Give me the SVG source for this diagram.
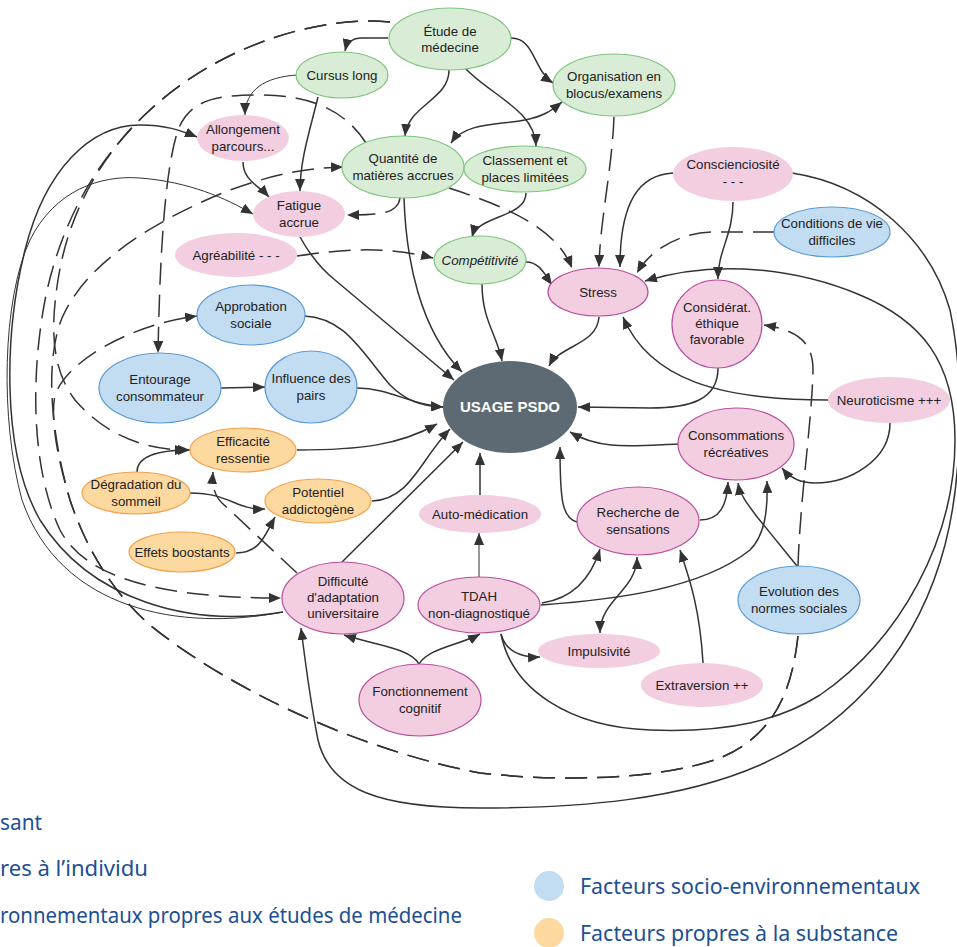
<svg xmlns="http://www.w3.org/2000/svg" width="957" height="947" viewBox="0 0 957 947">
<style>
.c{fill:none;stroke:#333;stroke-width:1.5}
.d{stroke-dasharray:22 10}
.t{stroke-width:1}
.n{font-family:"Liberation Sans",Arial,sans-serif;font-size:13.3px;fill:#222;text-anchor:middle}
.g{fill:#d9ecd5;stroke:#7fc47f;stroke-width:1.2}
.p{fill:#f3cde0}
.pb{fill:#f3cde0;stroke:#b84e9e;stroke-width:1.2}
.b{fill:#c2dcf2;stroke:#5b9bd5;stroke-width:1.2}
.o{fill:#fdd9a0;stroke:#f2a04e;stroke-width:1.2}
.lg{font-family:"Noto Sans","Open Sans",sans-serif;font-size:22px;fill:#1c4f95}
</style>
<defs>
<marker id="ah" viewBox="0 0 12 10" refX="12" refY="5" markerWidth="12" markerHeight="10" markerUnits="userSpaceOnUse" orient="auto-start-reverse"><path d="M0,0 L12,5 L0,10 z" fill="#333"/></marker>
</defs>

<g id="connectors">
<path class="c" marker-end="url(#ah)" d="M388,38 L362,38 C352,38 347,42 345,51"/>
<path class="c" marker-end="url(#ah)" d="M449,70 C449,100 408,105 405,136"/>
<path class="c" marker-end="url(#ah)" d="M465,68 C490,95 535,110 536,146"/>
<path class="c" marker-end="url(#ah)" d="M511,38 C535,38 533,70 553,83"/>
<path class="c" marker-start="url(#ah)" marker-end="url(#ah)" d="M451,143 C465,122 500,125 525,120 C545,116 552,110 562,102"/>
<path class="c t" marker-end="url(#ah)" d="M297,75 C265,77 245,90 245,115"/>
<path class="c" marker-end="url(#ah)" d="M318,97 C310,130 300,160 300,191"/>
<path class="c" marker-end="url(#ah)" d="M243,162 C243,180 258,185 269,197"/>
<path class="c d" marker-end="url(#ah)" d="M400,198 C398,215 375,215 347,215"/>
<path class="c d" marker-end="url(#ah)" d="M297,256 C340,250 380,245 433,258"/>
<path class="c" marker-end="url(#ah)" d="M526,193 C526,218 478,215 472,237"/>
<path class="c" marker-end="url(#ah)" d="M526,262 C540,262 545,275 552,285"/>
<path class="c d" marker-end="url(#ah)" d="M449,188 C500,205 555,225 572,268"/>
<path class="c d" marker-end="url(#ah)" d="M614,117 C612,170 600,220 599,267"/>
<path class="c" marker-end="url(#ah)" d="M673,173 C640,175 620,200 620,267"/>
<path class="c" marker-end="url(#ah)" d="M733,202 C733,235 718,250 718,279"/>
<path class="c d" marker-end="url(#ah)" d="M775,232 L715,232 C680,232 650,250 637,273"/>
<path class="c" marker-end="url(#ah)" d="M792,173 C870,185 930,240 950,310 C965,380 962,480 945,545 C920,640 860,720 760,765 C680,800 580,808 480,808 C380,808 330,790 318,740 C310,700 305,660 301,628"/>
<path class="c" marker-end="url(#ah)" d="M501,634 C512,690 570,727 650,730 C730,733 780,720 820,695 C900,640 955,540 955,440 C955,360 920,320 860,295 C800,270 720,258 645,281"/>
<path class="c" marker-end="url(#ah)" d="M599,317 C597,345 560,345 549,366"/>
<path class="c" marker-end="url(#ah)" d="M482,284 C482,320 497,335 502,361"/>
<path class="c" marker-end="url(#ah)" d="M404,198 C406,260 420,330 462,372"/>
<path class="c" marker-end="url(#ah)" d="M300,237 C310,255 320,268 335,280 L454,380"/>
<path class="c" marker-end="url(#ah)" d="M304,316 C345,318 360,350 390,385 C405,400 420,406 443,407"/>
<path class="c" marker-end="url(#ah)" d="M357,388 C390,388 410,405 443,407"/>
<path class="c" marker-end="url(#ah)" d="M221,388 L265,387"/>
<path class="c" marker-end="url(#ah)" d="M297,450 C360,450 400,445 437,424"/>
<path class="c" marker-end="url(#ah)" d="M372,501 C410,500 420,460 450,429"/>
<path class="c" marker-end="url(#ah)" d="M342,562 L463,442"/>
<path class="c" marker-end="url(#ah)" d="M480,495 L480,453"/>
<path class="c t" marker-end="url(#ah)" d="M479,577 L479,533"/>
<path class="c" marker-end="url(#ah)" d="M577,522 C562,518 560,500 560,447"/>
<path class="c" marker-end="url(#ah)" d="M678,444 C630,446 600,450 570,432"/>
<path class="c" marker-end="url(#ah)" d="M718,368 C718,400 690,408 650,408 L578,407"/>
<path class="c" marker-end="url(#ah)" d="M828,400 C720,400 650,380 623,317"/>
<path class="c" marker-end="url(#ah)" d="M890,423 C890,460 850,483 815,483 C800,483 790,478 782,468"/>
<path class="c" marker-end="url(#ah)" d="M700,520 C720,520 727,505 728,482"/>
<path class="c" marker-end="url(#ah)" d="M797,566 L758,518 C748,505 740,495 738,483"/>
<path class="c" marker-end="url(#ah)" d="M541,605 C610,600 700,590 750,550 C765,535 768,510 767,481"/>
<path class="c" marker-end="url(#ah)" d="M542,603 C575,598 592,575 600,549"/>
<path class="c" marker-start="url(#ah)" marker-end="url(#ah)" d="M600,633 C600,600 637,590 637,557"/>
<path class="c" marker-end="url(#ah)" d="M703,663 C700,610 690,580 680,550"/>
<path class="c" marker-end="url(#ah)" d="M501,634 C505,650 520,658 540,657"/>
<path class="c" marker-end="url(#ah)" d="M419,664 C410,648 375,645 344,635"/>
<path class="c" marker-end="url(#ah)" d="M419,664 C428,648 460,645 480,634"/>
<path class="c" marker-end="url(#ah)" d="M137,472 C137,455 160,450 190,450"/>
<path class="c" marker-end="url(#ah)" d="M190,493 C230,493 235,510 265,509"/>
<path class="c" marker-end="url(#ah)" d="M236,553 C260,553 265,535 275,517"/>
<path class="c d" marker-end="url(#ah)" d="M297,573 L222,503 C214,495 212,485 213,472"/>
<path class="c d" marker-end="url(#ah)" d="M798,566 C800,500 812,420 813,370 C813,340 795,330 764,325"/>
<path class="c" marker-end="url(#ah)" d="M283,612 C190,628 90,600 40,520 C0,450 5,330 25,250 C45,170 90,125 140,125 C165,125 180,130 197,137"/>
<path class="c t" marker-end="url(#ah)" d="M283,612 C180,632 60,610 22,500 C0,420 2,300 30,240 C55,190 100,175 140,178 C190,182 225,198 253,214"/>
<path class="c d" marker-end="url(#ah)" d="M390,22 C320,15 220,45 150,110 C95,160 60,225 45,300 C30,380 32,470 60,530 C85,578 160,598 281,598"/>
<path class="c d" marker-end="url(#ah)" d="M390,22 C320,15 220,45 150,110 C100,155 68,215 58,280 C50,330 52,370 75,400 C105,435 145,450 187,450"/>
<path class="c d" marker-end="url(#ah)" d="M366,143 C345,110 310,95 260,95 C215,95 190,100 178,130 C165,170 160,250 158,353"/>
<path class="c d" marker-end="url(#ah)" d="M798,636 C792,690 775,735 720,758 C660,780 560,782 480,773 C360,750 230,690 150,625 C110,590 85,545 70,500 C58,460 50,420 55,395 C68,360 130,325 197,316"/>
<path class="c d" marker-end="url(#ah)" d="M798,636 C792,690 775,735 720,758 C660,780 560,782 480,773 C360,750 230,690 150,625 C110,590 85,545 70,500 C50,430 45,360 62,318 C85,265 150,222 230,190 C275,174 305,168 343,167"/>
</g>

<g id="n-etude"><ellipse class="g" cx="450" cy="39" rx="61" ry="31"/><text class="n" x="450" y="36">Étude de</text><text class="n" x="450" y="52">médecine</text></g>
<g id="n-cursus"><ellipse class="g" cx="342" cy="75" rx="46" ry="23"/><text class="n" x="342" y="80">Cursus long</text></g>
<g id="n-orga"><ellipse class="g" cx="614" cy="85" rx="61" ry="31"/><text class="n" x="614" y="81">Organisation en</text><text class="n" x="614" y="98">blocus/examens</text></g>
<g id="n-allong"><ellipse class="p" cx="243" cy="138" rx="46" ry="23"/><text class="n" x="243" y="134">Allongement</text><text class="n" x="243" y="151">parcours...</text></g>
<g id="n-quant"><ellipse class="g" cx="403" cy="167" rx="61" ry="31"/><text class="n" x="403" y="163">Quantité de</text><text class="n" x="403" y="180">matières accrues</text></g>
<g id="n-class"><ellipse class="g" cx="525" cy="169" rx="61" ry="23"/><text class="n" x="525" y="165">Classement et</text><text class="n" x="525" y="182">places limitées</text></g>
<g id="n-fatigue"><ellipse class="p" cx="299" cy="214" rx="46" ry="23"/><text class="n" x="299" y="210">Fatigue</text><text class="n" x="299" y="227">accrue</text></g>
<g id="n-agrea"><ellipse class="p" cx="236" cy="255" rx="61" ry="22"/><text class="n" x="236" y="260">Agréabilité - - -</text></g>
<g id="n-compet"><ellipse class="g" cx="480" cy="260" rx="46" ry="24"/><text class="n" x="480" y="265" font-style="italic">Compétitivité</text></g>
<g id="n-stress"><ellipse class="pb" cx="598" cy="292" rx="50" ry="24"/><text class="n" x="598" y="297">Stress</text></g>
<g id="n-consc"><ellipse class="p" cx="733" cy="174" rx="60" ry="27"/><text class="n" x="733" y="169">Conscienciosité</text><text class="n" x="733" y="186">- - -</text></g>
<g id="n-cond"><ellipse class="b" cx="832" cy="232" rx="58" ry="25"/><text class="n" x="832" y="228">Conditions de vie</text><text class="n" x="832" y="245">difficiles</text></g>
<g id="n-ethique"><ellipse class="pb" cx="717" cy="324" rx="45" ry="44"/><text class="n" x="717" y="312">Considérat.</text><text class="n" x="717" y="328">éthique</text><text class="n" x="717" y="344">favorable</text></g>
<g id="n-neuro"><ellipse class="p" cx="889" cy="400" rx="61" ry="23"/><text class="n" x="889" y="405">Neuroticisme +++</text></g>
<g id="n-conso"><ellipse class="pb" cx="736" cy="444" rx="58" ry="36"/><text class="n" x="736" y="440">Consommations</text><text class="n" x="736" y="457">récréatives</text></g>
<g id="n-usage"><ellipse cx="510" cy="407" rx="67" ry="46" fill="#5e6a73"/><text x="510" y="412" font-family="Liberation Sans,Arial,sans-serif" font-size="15" font-weight="bold" fill="#fff" text-anchor="middle">USAGE PSDO</text></g>
<g id="n-approb"><ellipse class="b" cx="251" cy="315" rx="54" ry="30"/><text class="n" x="251" y="311">Approbation</text><text class="n" x="251" y="328">sociale</text></g>
<g id="n-entour"><ellipse class="b" cx="160" cy="388" rx="61" ry="35"/><text class="n" x="160" y="384">Entourage</text><text class="n" x="160" y="401">consommateur</text></g>
<g id="n-influ"><ellipse class="b" cx="311" cy="387" rx="46" ry="36"/><text class="n" x="311" y="383">Influence des</text><text class="n" x="311" y="400">pairs</text></g>
<g id="n-effic"><ellipse class="o" cx="243" cy="450" rx="53" ry="22"/><text class="n" x="243" y="446">Efficacité</text><text class="n" x="243" y="463">ressentie</text></g>
<g id="n-degrad"><ellipse class="o" cx="136" cy="493" rx="54" ry="21"/><text class="n" x="136" y="489">Dégradation du</text><text class="n" x="136" y="506">sommeil</text></g>
<g id="n-potent"><ellipse class="o" cx="318" cy="501" rx="53" ry="22"/><text class="n" x="318" y="497">Potentiel</text><text class="n" x="318" y="514">addictogène</text></g>
<g id="n-effets"><ellipse class="o" cx="182" cy="552" rx="53" ry="20"/><text class="n" x="182" y="557">Effets boostants</text></g>
<g id="n-automed"><ellipse class="p" cx="480" cy="514" rx="61" ry="19"/><text class="n" x="480" y="519">Auto-médication</text></g>
<g id="n-recher"><ellipse class="pb" cx="638" cy="521" rx="61" ry="34"/><text class="n" x="638" y="517">Recherche de</text><text class="n" x="638" y="534">sensations</text></g>
<g id="n-diffic"><ellipse class="pb" cx="343" cy="598" rx="61" ry="36"/><text class="n" x="343" y="586">Difficulté</text><text class="n" x="343" y="602">d'adaptation</text><text class="n" x="343" y="618">universitaire</text></g>
<g id="n-tdah"><ellipse class="pb" cx="479" cy="605" rx="61" ry="28"/><text class="n" x="479" y="601">TDAH</text><text class="n" x="479" y="618">non-diagnostiqué</text></g>
<g id="n-evol"><ellipse class="b" cx="799" cy="600" rx="61" ry="34"/><text class="n" x="799" y="596">Evolution des</text><text class="n" x="799" y="613">normes sociales</text></g>
<g id="n-impul"><ellipse class="p" cx="599" cy="651" rx="61" ry="17"/><text class="n" x="599" y="656">Impulsivité</text></g>
<g id="n-extra"><ellipse class="p" cx="702" cy="685" rx="61" ry="22"/><text class="n" x="702" y="690">Extraversion ++</text></g>
<g id="n-fonct"><ellipse class="pb" cx="420" cy="700" rx="61" ry="36"/><text class="n" x="420" y="696">Fonctionnement</text><text class="n" x="420" y="713">cognitif</text></g>

<g id="legend">
<text class="lg" x="0" y="830" textLength="42" lengthAdjust="spacingAndGlyphs">sant</text>
<text class="lg" x="0" y="876" textLength="148" lengthAdjust="spacingAndGlyphs">res à l’individu</text>
<text class="lg" x="0" y="923" textLength="462" lengthAdjust="spacingAndGlyphs">ronnementaux propres aux études de médecine</text>
<circle cx="549" cy="886" r="15" fill="#c2dcf2"/>
<text class="lg" x="580" y="894" textLength="340" lengthAdjust="spacingAndGlyphs">Facteurs socio-environnementaux</text>
<circle cx="549" cy="933" r="15" fill="#fdd9a0"/>
<text class="lg" x="580" y="941" textLength="318" lengthAdjust="spacingAndGlyphs">Facteurs propres à la substance</text>
</g>
</svg>
